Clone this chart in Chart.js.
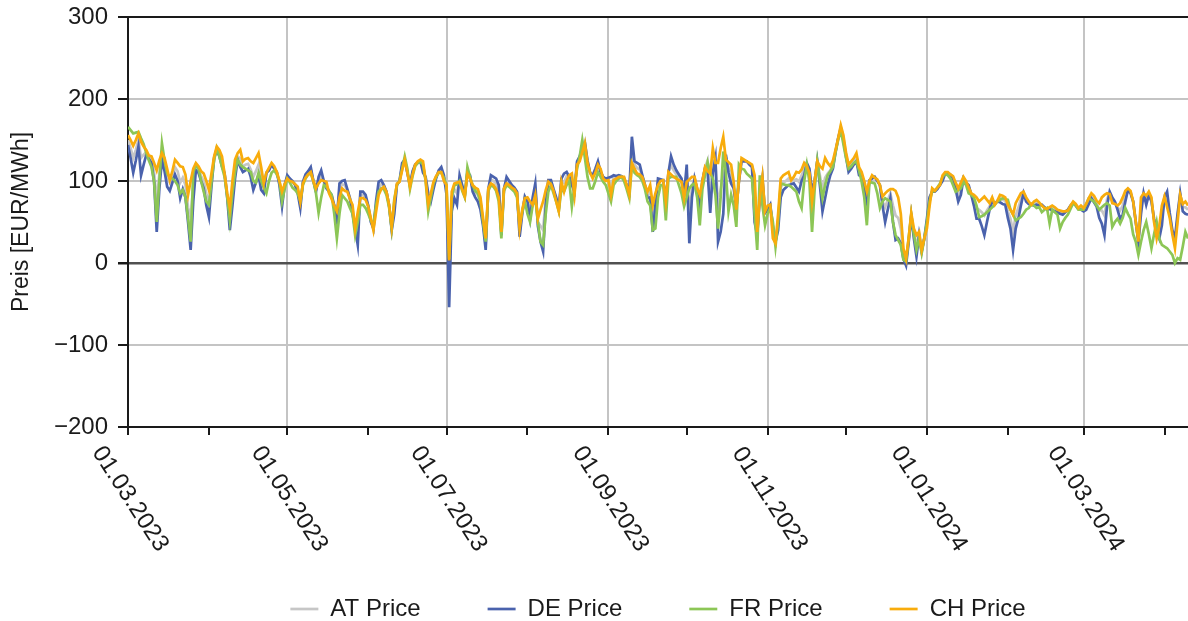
<!DOCTYPE html>
<html>
<head>
<meta charset="utf-8">
<script src="https://cdn.jsdelivr.net/npm/chart.js@4.4.1/dist/chart.umd.min.js"></script>
<style>
  html, body { margin: 0; padding: 0; background: #fff; }
  #wrap { width: 1188px; height: 621px; }
</style>
</head>
<body>
<div id="wrap"><canvas id="prices"></canvas></div>
<script>
// daily prices in EUR/MWh, first value = 01.03.2023
const atPrice = [
  150,140,128,138,150,128,132,135,129,126, 110,75,108,130,120,104,98,107,117,112,
  98,104,95,68,55,95,118,114,106,100, 85,72,103,129,140,134,124,109,83,55,
  85,115,130,127,117,120,121,114,105,112, 120,103,91,110,115,121,116,111,98,78,
  96,105,101,100,96,89,71,98,106,110, 114,100,89,101,107,100,95,86,80,70,
  58,89,96,95,89,79,66,42,42,83, 83,80,70,53,41,68,91,96,94,87,
  71,42,68,96,100,118,126,110,94,110, 120,123,125,117,103,78,80,95,105,112,
  114,104,90,-20,80,90,85,103,93,82, 110,105,91,86,83,73,50,22,90,102,
  100,97,88,36,91,101,98,94,91,86, 37,63,80,78,65,76,90,50,45,40,
  80,100,99,89,78,65,101,98,106,106, 102,85,122,127,138,148,124,110,105,113,
  122,113,104,102,103,94,104,105,106,106, 104,95,85,140,120,116,114,106,95,83,
  88,55,78,99,101,101,75,111,119,113, 108,105,101,81,110,60,92,104,91,73,
  100,116,125,85,125,125,70,90,110,129, 116,109,95,66,100,126,125,124,121,119,
  78,36,80,104,62,68,71,38,25,50, 92,98,100,103,99,101,102,99,107,115,
  120,113,81,100,124,107,89,104,109,113, 120,137,152,166,153,133,116,120,124,129,
  112,108,98,81,101,105,105,101,95,75, 68,77,85,70,58,55,42,12,1,28,
  59,36,21,36,15,30,48,75,89,88, 91,95,104,110,110,108,105,94,83,91,
  104,99,93,84,76,67,65,62,58,64, 69,78,72,76,79,77,76,63,54,38,
  58,67,78,86,78,74,71,73,74,72, 71,68,66,67,67,66,64,62,61,63,
  65,70,74,71,67,68,65,69,76,82, 78,73,64,64,58,78,86,77,74,68,
  64,70,82,90,87,75,50,26,70,85, 77,85,78,52,35,38,58,81,78,58,
  38,24,55,84,68,68,65
];
const dePrice = [
  144,128,110,125,142,107,120,132,127,122, 99,38,90,126,112,93,88,98,108,100,
  79,90,80,50,16,75,113,110,100,91, 70,56,95,128,138,130,118,109,80,40,
  70,103,126,117,111,113,115,105,89,98, 107,89,85,110,113,120,115,111,95,69,
  95,107,103,100,95,85,67,99,108,112, 117,100,87,105,113,100,91,87,83,70,
  52,97,100,101,90,79,60,42,22,87, 87,83,70,50,42,75,99,101,95,87,
  70,40,60,95,100,122,126,110,95,112, 120,122,124,110,105,85,75,90,103,113,
  117,107,83,-54,63,79,71,107,95,83, 111,107,87,80,75,65,45,16,90,107,
  105,103,95,34,90,105,100,95,92,87, 32,60,81,75,54,80,97,45,26,14,
  70,101,101,90,80,67,103,109,111,105, 95,87,124,130,140,146,125,110,107,115,
  124,111,105,103,104,105,107,106,107,106, 103,95,87,154,124,122,120,107,95,79,
  80,38,70,103,102,101,75,110,130,120, 113,108,103,83,120,24,80,103,90,63,
  100,115,111,61,110,128,26,38,60,132, 110,97,91,67,100,124,124,124,120,117,
  50,34,80,103,61,65,71,45,26,40, 80,89,92,95,96,97,92,87,100,107,
  122,115,87,100,124,95,63,79,95,107, 115,135,152,164,150,130,111,115,120,124,
  107,105,95,75,101,103,105,100,95,70, 50,65,79,50,28,30,24,5,-3,25,
  57,30,8,34,14,30,54,80,87,87, 90,95,100,109,108,107,103,90,75,83,
  103,98,95,83,70,54,54,45,34,50, 65,75,73,75,74,72,71,55,42,16,
  42,54,70,85,75,72,71,70,71,70, 71,68,65,66,64,63,62,60,59,62,
  65,70,73,70,66,65,63,65,72,79, 74,69,55,48,34,70,87,80,75,65,
  54,59,75,89,85,75,50,26,60,85, 71,83,75,54,40,30,46,80,87,61,
  40,30,60,85,63,60,59
];
const frPrice = [
  166,162,158,159,160,152,145,134,125,117, 99,50,100,146,125,109,105,103,100,95,
  85,89,80,55,26,110,120,115,100,87, 75,71,100,126,140,130,117,105,80,52,
  85,111,126,120,117,115,113,111,100,98, 110,100,92,85,100,110,113,108,100,75,
  90,103,98,92,89,85,75,95,103,108, 109,100,85,61,80,95,93,88,83,60,
  30,60,83,79,75,67,60,34,50,71, 71,67,60,52,46,70,87,91,90,83,
  68,42,78,95,100,115,130,115,90,106, 118,122,124,120,100,63,80,97,105,110,
  110,104,95,5,80,95,96,100,88,80, 117,105,95,88,85,75,50,26,88,95,
  93,88,75,30,88,95,93,90,87,80, 46,62,75,60,50,70,79,50,26,22,
  60,87,95,85,75,63,90,87,95,100, 69,95,115,130,150,128,105,91,91,100,
  111,105,99,95,85,75,95,100,103,105, 100,90,79,120,110,107,105,100,90,75,
  70,40,42,80,95,95,52,103,105,105, 105,95,85,69,80,91,95,97,80,46,
  90,107,123,110,103,83,42,80,136,110, 63,83,70,44,120,115,114,109,106,103,
  60,16,107,70,46,60,67,50,20,50, 97,96,95,95,93,90,87,75,67,100,
  120,99,38,90,124,100,79,95,107,112, 117,135,150,162,145,128,115,118,122,124,
  113,99,80,46,99,98,97,85,67,75, 79,77,75,50,34,28,22,4,2,30,
  59,35,16,30,12,30,50,75,87,88, 92,97,105,109,107,103,95,87,89,91,
  99,95,85,83,80,70,56,57,59,62, 65,68,71,75,77,79,78,77,65,59,
  52,54,56,60,65,67,72,70,67,68, 62,65,67,48,65,62,59,42,50,55,
  59,66,73,70,65,65,65,72,79,77, 75,70,65,68,71,73,70,44,50,54,
  48,55,67,60,54,35,26,10,26,40, 50,35,18,35,50,30,22,20,18,14,
  10,0,6,4,20,38,30
];
const chPrice = [
  156,150,143,150,158,148,142,138,131,130, 122,113,125,134,128,115,101,112,126,122,
  118,117,108,83,100,115,122,118,112,109, 100,89,110,130,142,138,130,109,85,67,
  100,126,134,138,124,127,128,124,122,128, 134,117,97,110,116,122,118,111,100,87,
  96,103,100,99,96,93,75,97,104,108, 111,100,91,97,101,100,99,85,78,70,
  63,80,91,88,87,78,71,42,62,79, 79,77,69,55,40,62,83,90,93,87,
  71,44,75,97,99,113,126,110,93,108, 120,124,126,124,101,71,85,99,106,111,
  111,100,95,3,87,97,98,99,90,81, 109,103,95,92,90,80,55,30,91,97,
  95,90,80,38,91,97,95,92,90,85, 42,65,79,80,75,71,83,54,65,75,
  89,99,96,88,75,63,99,87,100,107, 109,83,120,124,135,146,122,110,103,110,
  120,115,103,100,101,83,101,103,105,105, 105,95,83,122,115,109,108,105,95,87,
  95,71,85,95,100,101,75,111,108,105, 103,101,99,79,99,102,105,105,91,83,
  100,117,112,109,140,122,122,140,154,126, 123,120,99,65,100,128,126,124,122,120,
  107,38,80,105,63,70,71,30,24,60, 103,107,109,111,101,105,111,110,114,122,
  118,110,75,100,124,118,115,128,122,118, 125,138,152,168,156,135,120,124,128,134,
  117,111,100,87,100,107,104,102,95,81, 85,88,90,90,88,80,60,18,5,30,
  61,42,34,38,16,30,42,69,91,88, 92,95,107,111,111,108,106,98,91,98,
  105,100,92,85,83,80,75,78,81,77, 73,80,71,76,83,82,80,71,65,59,
  73,79,85,87,80,75,71,75,77,74, 70,67,66,68,70,68,65,64,63,63,
  64,70,75,72,67,70,67,72,79,85, 82,76,73,80,83,85,84,73,72,70,
  73,80,88,91,88,75,50,26,80,85, 82,87,80,50,30,45,70,81,68,55,
  35,18,50,83,72,75,70
];

const firstDay = "01.03.2023";
const majorTicks = ["01.03.2023", "01.05.2023", "01.07.2023", "01.09.2023", "01.11.2023", "01.01.2024", "01.03.2024"];
const minorTicks = ["01.04.2023", "01.06.2023", "01.08.2023", "01.10.2023", "01.12.2023", "01.02.2024", "01.04.2024"];
const yTicks = [-200, -100, 0, 100, 200, 300];

const FONT = "'Liberation Sans', Arial, sans-serif";

function toUTC(s) {
  const [d, m, y] = s.split(".").map(Number);
  return Date.UTC(y, m - 1, d);
}
function dayOf(s) {
  return Math.round((toUTC(s) - toUTC(firstDay)) / 86400000);
}
const majorDays = majorTicks.map(dayOf);
const minorDays = minorTicks.map(dayOf);
const toPoints = arr => arr.map((v, i) => ({ x: i, y: v }));

// rotated date labels under the x axis
const dateLabels = {
  id: "dateLabels",
  afterDraw(chart) {
    const ctx = chart.ctx;
    const xs = chart.scales.x;
    const bottom = chart.chartArea.bottom;
    ctx.save();
    ctx.font = "24px " + FONT;
    ctx.fillStyle = "#1a1a1a";
    ctx.textAlign = "center";
    ctx.textBaseline = "middle";
    majorTicks.forEach((label, i) => {
      const x = xs.getPixelForValue(majorDays[i]);
      ctx.save();
      ctx.translate(x + 2, bottom + 72);
      ctx.rotate(57 * Math.PI / 180);
      ctx.fillText(label, 0, 0);
      ctx.restore();
    });
    ctx.restore();
  }
};

const data = {
  datasets: [
    { label: "AT Price", data: toPoints(atPrice), borderColor: "#c6c6c6", backgroundColor: "#c6c6c6", borderWidth: 2.7, order: 4 },
    { label: "DE Price", data: toPoints(dePrice), borderColor: "#4a62ad", backgroundColor: "#4a62ad", borderWidth: 2.7, order: 3 },
    { label: "FR Price", data: toPoints(frPrice), borderColor: "#8cc656", backgroundColor: "#8cc656", borderWidth: 2.7, order: 2 },
    { label: "CH Price", data: toPoints(chPrice), borderColor: "#f8ac0c", backgroundColor: "#f8ac0c", borderWidth: 2.7, order: 1 },
  ],
};

const config = {
  type: "line",
  data: data,
  options: {
    responsive: true,
    maintainAspectRatio: false,
    animation: false,
    layout: { padding: { top: 17, right: 0, bottom: -10, left: 0 } },
    elements: {
      point: { radius: 0 },
      line: { tension: 0 },
    },
    plugins: {
      tooltip: { enabled: false },
      legend: {
        position: "bottom",
        fullSize: false,
        labels: {
          usePointStyle: true,
          pointStyle: "line",
          pointStyleWidth: 28,
          padding: 67,
          color: "#1a1a1a",
          font: { family: FONT, size: 24 },
          sort: (a, b) => a.datasetIndex - b.datasetIndex,
        },
      },
    },
    scales: {
      x: {
        type: "linear",
        min: 0,
        max: 406,
        afterBuildTicks: s => { s.ticks = majorDays.concat(minorDays).map(v => ({ value: v })); },
        afterFit: s => { s.height = 103; },
        ticks: { display: false },
        grid: {
          color: c => majorDays.includes(c.tick && c.tick.value) ? "#c4c4c4" : "rgba(0,0,0,0)",
          lineWidth: 2,
          tickColor: "#1a1a1a",
          tickLength: 8,
        },
        border: { color: "#1a1a1a", width: 2 },
      },
      y: {
        min: -200,
        max: 300,
        afterBuildTicks: s => { s.ticks = yTicks.map(v => ({ value: v })); },
        afterFit: s => { s.width = 128; s.paddingTop = 0; s.paddingBottom = 0; },
        ticks: {
          padding: 10,
          color: "#1a1a1a",
          font: { family: FONT, size: 24 },
          callback: v => String(v).replace("-", "\u2212"),
        },
        grid: {
          color: c => {
            const v = c.tick && c.tick.value;
            if (v === 0) return "#505050";
            if (v === 300 || v === -200) return "#1a1a1a";
            return "#c4c4c4";
          },
          lineWidth: c => (c.tick && c.tick.value === 0) ? 2.5 : 2,
          tickColor: "#1a1a1a",
          tickLength: 10,
        },
        border: { color: "#1a1a1a", width: 2 },
        title: {
          display: true,
          text: "Preis [EUR/MWh]",
          color: "#1a1a1a",
          font: { family: FONT, size: 23 },
          padding: { top: 8, bottom: 0 },
        },
      },
    },
  },
  plugins: [dateLabels],
};

const prices = new Chart(document.getElementById("prices").getContext("2d"), config);
</script>
</body>
</html>
